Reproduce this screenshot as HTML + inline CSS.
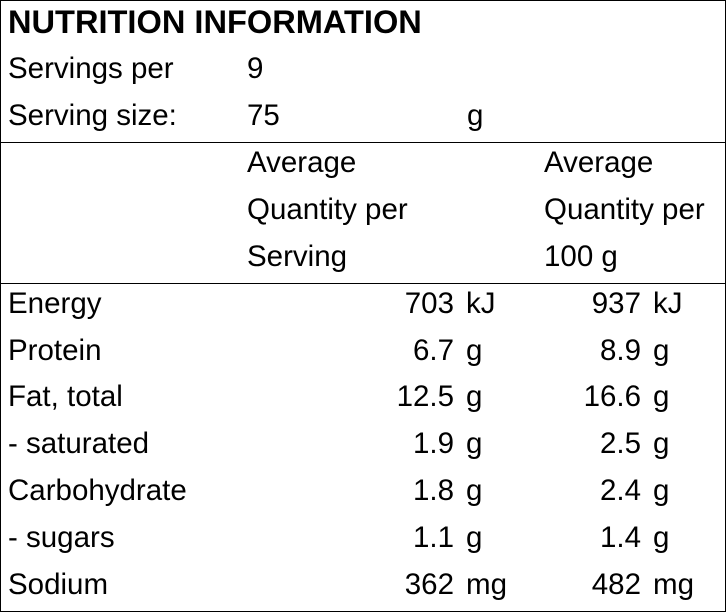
<!DOCTYPE html>
<html><head><meta charset="utf-8"><style>
body{margin:0;background:#fff;}
#c{position:relative;width:724px;height:610px;border:1px solid #000;overflow:hidden;font-family:"Liberation Sans",Arial,sans-serif;font-size:29.5px;color:#000;}
.t{position:absolute;line-height:30px;height:30px;white-space:nowrap;}
.r{text-align:right;}
.hl{position:absolute;left:0;width:724px;height:1px;background:#000;}
</style></head><body><div id="c">
<div class="t" style="left:7px;top:6px;font-weight:bold;font-size:32.6px;">NUTRITION INFORMATION</div>
<div class="t" style="left:7px;top:53px;">Servings per</div><div class="t" style="left:246px;top:53px;">9</div>
<div class="t" style="left:7px;top:100px;">Serving size:</div><div class="t" style="left:246px;top:100px;">75</div><div class="t" style="left:466px;top:100px;">g</div>
<div class="hl" style="top:141px"></div>
<div class="t" style="left:246px;top:147px;">Average</div><div class="t" style="left:543px;top:147px;">Average</div>
<div class="t" style="left:246px;top:194px;">Quantity per</div><div class="t" style="left:543px;top:194px;">Quantity per</div>
<div class="t" style="left:246px;top:241px;">Serving</div><div class="t" style="left:543px;top:241px;">100 g</div>
<div class="hl" style="top:282px"></div>

<div class="t" style="left:7px;top:288px;">Energy</div><div class="t r" style="left:300px;width:153px;top:288px;">703</div><div class="t" style="left:465px;top:288px;">kJ</div><div class="t r" style="left:500px;width:140px;top:288px;">937</div><div class="t" style="left:652px;top:288px;">kJ</div>
<div class="t" style="left:7px;top:335px;">Protein</div><div class="t r" style="left:300px;width:153px;top:335px;">6.7</div><div class="t" style="left:465px;top:335px;">g</div><div class="t r" style="left:500px;width:140px;top:335px;">8.9</div><div class="t" style="left:652px;top:335px;">g</div>
<div class="t" style="left:7px;top:381px;">Fat, total</div><div class="t r" style="left:300px;width:153px;top:381px;">12.5</div><div class="t" style="left:465px;top:381px;">g</div><div class="t r" style="left:500px;width:140px;top:381px;">16.6</div><div class="t" style="left:652px;top:381px;">g</div>
<div class="t" style="left:7px;top:428px;">- saturated</div><div class="t r" style="left:300px;width:153px;top:428px;">1.9</div><div class="t" style="left:465px;top:428px;">g</div><div class="t r" style="left:500px;width:140px;top:428px;">2.5</div><div class="t" style="left:652px;top:428px;">g</div>
<div class="t" style="left:7px;top:475px;">Carbohydrate</div><div class="t r" style="left:300px;width:153px;top:475px;">1.8</div><div class="t" style="left:465px;top:475px;">g</div><div class="t r" style="left:500px;width:140px;top:475px;">2.4</div><div class="t" style="left:652px;top:475px;">g</div>
<div class="t" style="left:7px;top:522px;">- sugars</div><div class="t r" style="left:300px;width:153px;top:522px;">1.1</div><div class="t" style="left:465px;top:522px;">g</div><div class="t r" style="left:500px;width:140px;top:522px;">1.4</div><div class="t" style="left:652px;top:522px;">g</div>
<div class="t" style="left:7px;top:569px;">Sodium</div><div class="t r" style="left:300px;width:153px;top:569px;">362</div><div class="t" style="left:465px;top:569px;">mg</div><div class="t r" style="left:500px;width:140px;top:569px;">482</div><div class="t" style="left:652px;top:569px;">mg</div>
</div></body></html>
